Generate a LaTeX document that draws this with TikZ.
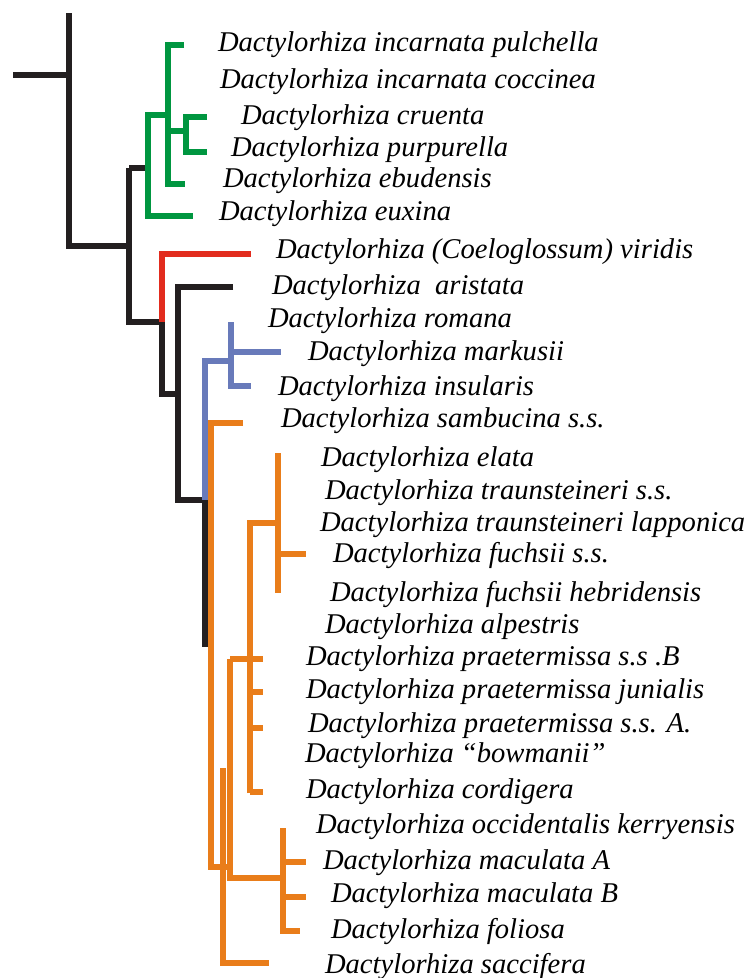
\documentclass[tikz,border=0pt]{standalone}
\usepackage{fontspec}
\setmainfont{Liberation Serif}[ItalicFont={Liberation Serif Italic}]
\newfontfamily\etqfont{Liberation Serif Italic}
\usetikzlibrary{calc}
\definecolor{negro}{RGB}{35,31,32}
\definecolor{verde}{RGB}{0,150,64}
\definecolor{rojo}{RGB}{226,44,30}
\definecolor{azul}{RGB}{104,122,186}
\definecolor{naranja}{RGB}{233,125,26}

\begin{document}
\begin{tikzpicture}[x=1pt, y=-1pt, line width=6pt, line join=miter,
  lab/.style={anchor=base west, inner sep=0pt, font=\etqfont\fontsize{28.6}{30}\selectfont}]
  \useasboundingbox (0,0) rectangle (747,978);
  % nodos internos
  \coordinate (R) at (13,75);
  \coordinate (N1) at (69,75);
  \coordinate (N2) at (129,246);
  \coordinate (G1) at (148,168);
  \coordinate (G2) at (168,115);
  \coordinate (G3) at (186,131);
  \coordinate (N3) at (162,322);
  \coordinate (N4) at (178,394);
  \coordinate (N5) at (205,500);
  \coordinate (B1) at (231,361);
  \coordinate (O1) at (211,423);
  \coordinate (O2) at (230,659);
  \coordinate (O3) at (250,523);
  \coordinate (O4) at (278,554);
  \coordinate (O5) at (223,867);
  \coordinate (O6) at (283,878);
  % etiquetas
  \node[lab] (pul) at (215,51) {Dactylorhiza incarnata pulchella};
  \node[lab] (coc) at (217,88) {Dactylorhiza incarnata coccinea};
  \node[lab] (cru) at (238,124) {Dactylorhiza cruenta};
  \node[lab] (pur) at (228,156) {Dactylorhiza purpurella};
  \node[lab] (ebu) at (220,187) {Dactylorhiza ebudensis};
  \node[lab] (eux) at (216,220) {Dactylorhiza euxina};
  \node[lab] (vir) at (273,258) {Dactylorhiza (Coeloglossum) viridis};
  \node[lab] (ari) at (269,294) {Dactylorhiza\ \ aristata};
  \node[lab] (rom) at (265,327) {Dactylorhiza romana};
  \node[lab] (mar) at (305,360) {Dactylorhiza markusii};
  \node[lab] (ins) at (275,395) {Dactylorhiza insularis};
  \node[lab] (sam) at (278,427) {Dactylorhiza sambucina s.s.};
  \node[lab] (ela) at (318,466) {Dactylorhiza elata};
  \node[lab] (tra) at (322,499) {Dactylorhiza traunsteineri s.s.};
  \node[lab] (lap) at (317,531) {Dactylorhiza traunsteineri lapponica};
  \node[lab] (fuc) at (330,562) {Dactylorhiza fuchsii s.s.};
  \node[lab] (heb) at (327,601) {Dactylorhiza fuchsii hebridensis};
  \node[lab] (alp) at (322,633) {Dactylorhiza alpestris};
  \node[lab] (prB) at (303,665) {Dactylorhiza praetermissa s.s .B};
  \node[lab] (jun) at (303,698) {Dactylorhiza praetermissa junialis};
  \node[lab] (prA) at (305,732) {Dactylorhiza praetermissa s.s. A.};
  \node[lab] (bow) at (302,762) {Dactylorhiza “bowmanii”};
  \node[lab] (cor) at (303,798) {Dactylorhiza cordigera};
  \node[lab] (occ) at (313,833) {Dactylorhiza occidentalis kerryensis};
  \node[lab] (mcA) at (320,869) {Dactylorhiza maculata A};
  \node[lab] (mcB) at (328,902) {Dactylorhiza maculata B};
  \node[lab] (fol) at (328,938) {Dactylorhiza foliosa};
  \node[lab] (sac) at (322,973) {Dactylorhiza saccifera};
  % tronco negro
  \draw[negro] (R) -- (N1) (N1 |- 0,13) -- (N1 |- N2) -- (N2);
  \draw[negro] (N2 |- G1) -- (N2 |- N3) -- (N3) -- (N3 |- N4) -- (N4);
  \draw[negro] (N2 |- G1) -- (G1);
  \draw[negro] (233,287) -| (N4) |- (N5) -- (N5 |- 0,647);
  % clado verde
  \draw[verde] (G2) -| (G1) |- (193,216);
  \draw[verde] (184,45) -| (G2) |- (185,184);
  \draw[verde] (G2 |- G3) -- (G3);
  \draw[verde] (207,117) -| (G3) |- (207,152);
  % viridis
  \draw[rojo] (N3) |- (251,254);
  % clado azul
  \draw[azul] (N5) |- (B1);
  \draw[azul] (B1 |- 0,322) -- (B1 |- 0,386) -- (251,386);
  \draw[azul] (B1 |- 0,352) -- (281,352);
  % clado naranja
  \draw[naranja] (243,423) -- (O1) -- (O1 |- O5) -- (232,867);
  \draw[naranja] (O4 |- 0,453) -- (O4 |- 0,593) (O4) -- (306,554);
  \draw[naranja] (O3 |- 0,793) -- (O3) -- (O4 |- O3);
  \draw[naranja] (O2) -- (263,659) (O2) -- (O2 |- O6) -- (O6);
  \draw[naranja] (O3 |- 0,692) -- (263,692) (O3 |- 0,728) -- (263,728) (O3 |- 0,792) -- (263,792);
  \draw[naranja] (O5 |- 0,768) -- (O5 |- 0,963) -- (269,963);
  \draw[naranja] (O6 |- 0,828) -- (O6 |- 0,931) -- (300,931);
  \draw[naranja] (O6 |- 0,862) -- (306,862) (O6 |- 0,897) -- (306,897);
\end{tikzpicture}
\end{document}
